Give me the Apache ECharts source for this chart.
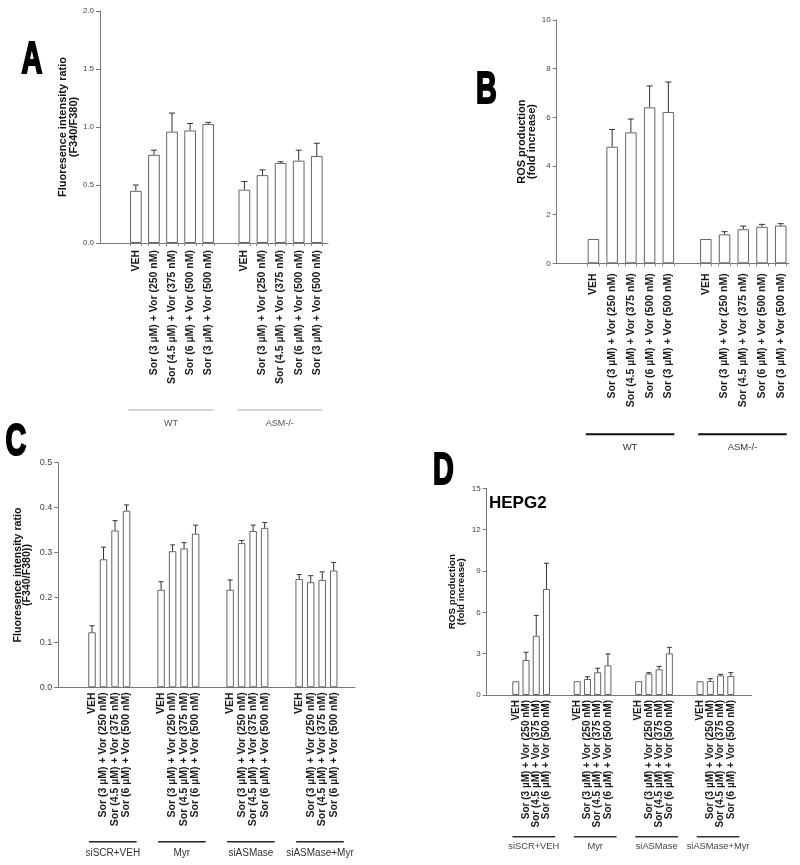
<!DOCTYPE html>
<html>
<head>
<meta charset="utf-8">
<script src="https://cdn.jsdelivr.net/npm/echarts@6/dist/echarts.min.js"></script>
<style>html,body{margin:0;padding:0;background:#fff}#c{width:800px;height:865px}</style>
</head>
<body>
<div id="c"></div>
<script>
// ---------- DATA ----------
const labelsAB = ['VEH', 'Sor (3 µM) + Vor (250 nM)', 'Sor (4.5 µM) + Vor (375 nM)', 'Sor (6 µM) + Vor (500 nM)', 'Sor (3 µM) + Vor (500 nM)'];
const labelsCD = ['VEH', 'Sor (3 µM) + Vor (250 nM)', 'Sor (4.5 µM) + Vor (375 nM)', 'Sor (6 µM) + Vor (500 nM)'];
const groupsAB = ['WT', 'ASM-/-'];
const groupsCD = ['siSCR+VEH', 'Myr', 'siASMase', 'siASMase+Myr'];

const yTicksA = [0, 0.5, 1.0, 1.5, 2.0];
const yTicksB = [0, 2, 4, 6, 8, 10];
const yTicksC = [0, 0.1, 0.2, 0.3, 0.4, 0.5];
const yTicksD = [0, 3, 6, 9, 12, 15];

// Panel A: Fluorescence ratio (mean, SEM)
const meanA_WT  = [0.45, 0.76, 0.96, 0.97, 1.025];
const semA_WT   = [0.05, 0.04, 0.16, 0.06, 0.015];
const meanA_ASM = [0.46, 0.585, 0.69, 0.71, 0.75];
const semA_ASM  = [0.07, 0.045, 0.01, 0.09, 0.11];

// Panel B: ROS production
const meanB_WT  = [1.0, 4.79, 5.38, 6.41, 6.22];
const semB_WT   = [0, 0.71, 0.55, 0.88, 1.23];
const meanB_ASM = [1.0, 1.19, 1.40, 1.50, 1.55];
const semB_ASM  = [0, 0.11, 0.13, 0.10, 0.08];

// Panel C: Fluorescence ratio
const meanC_siSCR   = [0.1225, 0.285, 0.349, 0.393];
const semC_siSCR    = [0.0145, 0.027, 0.022, 0.013];
const meanC_Myr     = [0.217, 0.303, 0.309, 0.342];
const semC_Myr      = [0.018, 0.014, 0.013, 0.019];
const meanC_siASM   = [0.217, 0.321, 0.348, 0.355];
const semC_siASM    = [0.022, 0.006, 0.013, 0.012];
const meanC_siASMMyr= [0.241, 0.234, 0.239, 0.26];
const semC_siASMMyr = [0.01, 0.0145, 0.018, 0.018];

// Panel D: ROS production HEPG2
const meanD_siSCR   = [1.0, 2.54, 4.3, 7.69];
const semD_siSCR    = [0, 0.56, 1.48, 1.87];
const meanD_Myr     = [1.0, 1.16, 1.65, 2.15];
const semD_Myr      = [0, 0.17, 0.29, 0.83];
const meanD_siASM   = [1.0, 1.55, 1.86, 3.02];
const semD_siASM    = [0, 0.07, 0.22, 0.44];
const meanD_siASMMyr= [1.0, 1.02, 1.42, 1.38];
const semD_siASMMyr = [0, 0.16, 0.08, 0.24];

// ---------- PANEL CONFIG (layout/styling) ----------
const FONT = '"Liberation Sans", Arial, sans-serif';
const panels = [
  { key:'A', left:100, top:11, width:228, height:232, xMin:0.02, xMax:12.62,
    yTicks:yTicksA, dec:1, barW:11.7, first:2, stride:6, labels:labelsAB, groups:groupsAB,
    means:[meanA_WT, meanA_ASM], sems:[semA_WT, semA_ASM],
    yName:'Fluoresence intensity ratio\n(F340/F380)', nameGap:21, nameSize:11,
    tickFont:8, xLabelMargin:7, xFont:10.5, capW:6, edgeTicks:0.32,
    lineOff:[-0.4, 0.3], lineDy:167, labelDy:181, lineColor:'#aaa', lineW:1, grpFont:9, grpColor:'#555' },
  { key:'B', left:556.7, top:20, width:232.3, height:243.3, xMin:0.04, xMax:12.44,
    yTicks:yTicksB, dec:0, barW:11.5, first:2, stride:6, labels:labelsAB, groups:groupsAB,
    means:[meanB_WT, meanB_ASM], sems:[semB_WT, semB_ASM],
    yName:'ROS production\n(fold increase)', nameGap:20, nameSize:11,
    tickFont:8, xLabelMargin:10, xFont:10.5, capW:6, edgeTicks:0.31,
    lineOff:[-0.41, 0.32], lineDy:171, labelDy:184, lineColor:'#111', lineW:2, grpFont:9.5, grpColor:'#333' },
  { key:'C', left:58.3, top:462.7, width:296.7, height:224.6, xMin:0.07, xMax:25.85,
    yTicks:yTicksC, dec:1, barW:7.5, first:3, stride:6, labels:labelsCD, groups:groupsCD,
    means:[meanC_siSCR, meanC_Myr, meanC_siASM, meanC_siASMMyr], sems:[semC_siSCR, semC_Myr, semC_siASM, semC_siASMMyr],
    yName:'Fluoresence intensity ratio\n(F340/F380))', nameGap:26, nameSize:10.6,
    tickFont:9, xLabelMargin:5, xFont:10.5, capW:5, edgeTicks:0,
    lineOff:[-0.26, 0.87], lineDy:154.5, labelDy:165.5, lineColor:'#222', lineW:1.6, grpFont:10, grpColor:'#333' },
  { key:'D', left:486.7, top:488.3, width:265, height:206.7, xMin:0.16, xMax:26.04,
    yTicks:yTicksD, dec:0, barW:7, first:3, stride:6, labels:labelsCD, groups:groupsCD,
    means:[meanD_siSCR, meanD_Myr, meanD_siASM, meanD_siASMMyr], sems:[semD_siSCR, semD_Myr, semD_siASM, semD_siASMMyr],
    yName:'ROS production\n(fold increase)', nameGap:21, nameSize:9.8,
    tickFont:8, xLabelMargin:5, xFont:10, capW:5, edgeTicks:0,
    lineOff:[-0.33, 0.84], lineDy:141.7, labelDy:151.7, lineColor:'#333', lineW:1.5, grpFont:9.3, grpColor:'#444' }
];

const option = { animation:false, backgroundColor:'#fff', grid:[], xAxis:[], yAxis:[], series:[], graphic:[] };

panels.forEach((p, i) => {
  const n = p.labels.length;
  const positions = [], labelByPos = {}, barData = [], errData = [];
  p.groups.forEach((g, gi) => {
    p.labels.forEach((lab, k) => {
      const pos = p.first + gi * p.stride + k;
      positions.push(pos);
      labelByPos[pos] = lab;
      barData.push([pos, p.means[gi][k]]);
      errData.push([pos, p.means[gi][k], p.means[gi][k] + p.sems[gi][k]]);
    });
  });
  const edgeTickVals = [];
  if (p.edgeTicks) positions.forEach(v => { edgeTickVals.push(v - p.edgeTicks, v + p.edgeTicks); });
  const yMin = p.yTicks[0], yMax = p.yTicks[p.yTicks.length - 1];

  option.grid.push({ left:p.left, top:p.top, width:p.width, height:p.height, containLabel:false });
  option.xAxis.push({
    gridIndex:i, type:'value', min:p.xMin, max:p.xMax,
    axisLine:{ show:true, onZero:false, lineStyle:{ color:'#777', width:1 } },
    axisTick:{ show: !!p.edgeTicks, customValues: edgeTickVals, length:3, lineStyle:{ color:'#888' } },
    splitLine:{ show:false },
    axisLabel:{
      customValues: positions, rotate:90, margin:p.xLabelMargin,
      showMinLabel:true, showMaxLabel:true, hideOverlap:false,
      formatter: v => labelByPos[Math.round(v)] || '',
      fontFamily:FONT, fontWeight:'bold', fontSize:p.xFont, color:'#1a1a1a'
    }
  });
  option.yAxis.push({
    gridIndex:i, type:'value', min:yMin, max:yMax, interval:p.yTicks[1] - p.yTicks[0],
    axisLine:{ show:true, lineStyle:{ color:'#777', width:1 } },
    axisTick:{ show:true, length:4, lineStyle:{ color:'#777' } },
    splitLine:{ show:false },
    axisLabel:{ margin:6, fontFamily:FONT, fontSize:p.tickFont, color:'#444',
      formatter: v => Number(v).toFixed(p.dec) },
    name:p.yName, nameLocation:'middle', nameRotate:90, nameGap:p.nameGap,
    nameTextStyle:{ fontFamily:FONT, fontWeight:'bold', fontSize:p.nameSize, lineHeight:p.nameSize * 0.92, color:'#111' }
  });
  option.series.push({
    type:'bar', xAxisIndex:i, yAxisIndex:i, data:barData, barWidth:p.barW,
    itemStyle:{ color:'#fff', borderColor:'#666', borderWidth:1 }, silent:true, z:2
  });
  option.series.push({
    type:'custom', xAxisIndex:i, yAxisIndex:i, data:errData, encode:{ x:0, y:[1,2] }, z:3, silent:true, clip:false,
    renderItem: (params, api) => {
      const x = api.value(0), m = api.value(1), t = api.value(2);
      if (t <= m) return null;
      const a = api.coord([x, m]), b = api.coord([x, t]);
      const st = { stroke:'#333', lineWidth:1 };
      return { type:'group', children:[
        { type:'line', shape:{ x1:a[0], y1:a[1], x2:b[0], y2:b[1] }, style:st },
        { type:'line', shape:{ x1:b[0] - p.capW / 2, y1:b[1], x2:b[0] + p.capW / 2, y2:b[1] }, style:st }
      ]};
    }
  });
  option.series.push({
    type:'custom', xAxisIndex:i, yAxisIndex:i, data:p.groups.map((g, gi) => [gi, yMin]), encode:{ x:0, y:1 },
    z:3, silent:true, clip:false,
    renderItem: (params, api) => {
      const gi = params.dataIndex;
      const s = p.first + gi * p.stride + p.lineOff[0];
      const e = p.first + gi * p.stride + (n - 1) + p.lineOff[1];
      const a = api.coord([s, yMin]), b = api.coord([e, yMin]);
      const y0 = a[1];
      return { type:'group', children:[
        { type:'line', shape:{ x1:a[0], y1:y0 + p.lineDy, x2:b[0], y2:y0 + p.lineDy }, style:{ stroke:p.lineColor, lineWidth:p.lineW } },
        { type:'text', style:{ text:p.groups[gi], x:(a[0] + b[0]) / 2, y:y0 + p.labelDy, align:'center', verticalAlign:'middle',
          fontFamily:FONT, fontSize:p.grpFont, fill:p.grpColor } }
      ]};
    }
  });
});

// Panel letters and HEPG2 title
const letters = [['A', 32, 60.5], ['B', 486.4, 90.4], ['C', 16, 443], ['D', 443.5, 471.5]];
letters.forEach(([t, x, y]) => {
  option.graphic.push({ type:'text', x:x, y:y, scaleX:0.64, silent:true,
    style:{ text:t, x:0, y:0, align:'center', verticalAlign:'middle', fontFamily:FONT, fontWeight:'bold', fontSize:45, fill:'#000',
      stroke:'#000', lineWidth:2.2 } });
});
option.graphic.push({ type:'text', x:489, y:503, silent:true,
  style:{ text:'HEPG2', x:0, y:0, align:'left', verticalAlign:'middle', fontFamily:FONT, fontWeight:'bold', fontSize:17, fill:'#000' } });

const chart = echarts.init(document.getElementById('c'), null, { renderer:'canvas', width:800, height:865 });
chart.setOption(option);
</script>
</body>
</html>
